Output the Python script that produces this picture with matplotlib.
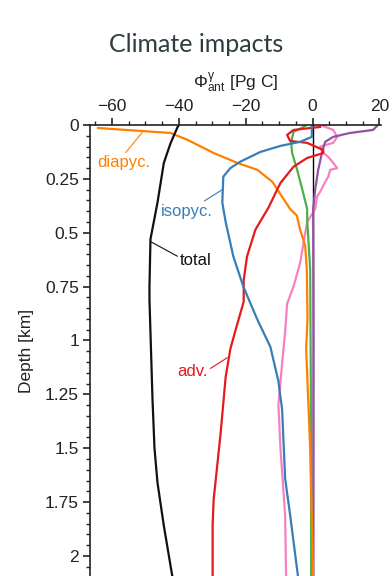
import matplotlib
matplotlib.use("Agg")
import matplotlib.pyplot as plt
from matplotlib.ticker import MultipleLocator

plt.rcParams['font.family'] = ['Liberation Sans', 'DejaVu Sans']
plt.rcParams['mathtext.fontset'] = 'custom'
plt.rcParams['mathtext.rm'] = 'Liberation Sans'
plt.rcParams['mathtext.it'] = 'Liberation Sans:italic'

# ---- data (Pg C vs depth km) ----
total_x = [-40.0, -40.4, -42.5, -44.5, -46.4, -48.5, -48.8, -48.8, -47.9, -47.3, -46.4, -44.5, -41.9]
total_d = [0.0, 0.01, 0.085, 0.176, 0.36, 0.53, 0.75, 0.81, 1.27, 1.5, 1.66, 1.86, 2.1]

diapyc_x = [-64.2, -42.5, -37.4, -29.6, -22.5, -16.5, -12.0, -6.7, -4.7, -3.7, -2.2, -1.7, -1.5, -1.9, -1.3, -0.7, 0.2]
diapyc_d = [0.014, 0.037, 0.069, 0.13, 0.176, 0.208, 0.264, 0.39, 0.42, 0.486, 0.56, 0.67, 0.9, 1.04, 1.27, 1.5, 2.1]

isopyc_x = [-0.2, -0.2, -3.7, -9.6, -15.6, -21.6, -24.6, -26.7, -27.0, -26.0, -23.7, -20.7, -16.6, -12.6, -10.2, -9.1, -8.2, -6.7, -4.3]
isopyc_d = [0.0, 0.055, 0.078, 0.097, 0.125, 0.17, 0.2, 0.24, 0.36, 0.45, 0.61, 0.75, 0.90, 1.03, 1.19, 1.32, 1.64, 1.81, 2.1]

adv_x = [2.3, -5.7, -7.6, -6.7, -1.6, 3.2, 3.2, 1.4, -1.6, -5.7, -9.6, -13.2, -17.1, -19.6, -20.6, -20.6, -23.0, -24.6, -26.0, -27.5, -29.6, -29.9, -29.9]
adv_d = [0.009, 0.023, 0.046, 0.074, 0.083, 0.116, 0.13, 0.139, 0.153, 0.194, 0.269, 0.384, 0.486, 0.61, 0.72, 0.82, 0.95, 1.04, 1.17, 1.43, 1.74, 1.86, 2.1]

green_x = [-2.2, -5.7, -6.4, -6.1, -4.6, -2.8, -1.6, -1.6, -0.7, -0.5, -0.4]
green_d = [0.005, 0.032, 0.083, 0.13, 0.208, 0.315, 0.39, 0.44, 0.67, 1.2, 2.1]

purple_x = [19.3, 18.1, 11.2, 6.2, 3.8, 2.9, 1.7, 0.8, 0.2, 0.3, 0.2]
purple_d = [0.005, 0.023, 0.037, 0.055, 0.078, 0.125, 0.208, 0.3, 0.39, 1.0, 2.1]

pink_x = [3.2, 6.2, 7.4, 6.2, 3.8, 2.3, 2.9, 4.7, 5.9, 7.4, 5.3, 4.7, 3.8, 2.3, 1.4, 0.8, -1.6, -3.7, -5.7, -7.6, -8.2, -9.6, -10.2, -9.6, -8.2, -7.9]
pink_d = [0.005, 0.023, 0.055, 0.083, 0.093, 0.1, 0.125, 0.148, 0.17, 0.2, 0.208, 0.24, 0.264, 0.31, 0.33, 0.39, 0.45, 0.64, 0.75, 0.83, 0.96, 1.19, 1.3, 1.5, 1.81, 2.1]

xticks = [-60, -40, -20, 0, 20]
xticklabels = ['\u221260', '\u221240', '\u221220', '0', '20']
yticks = [0, 0.25, 0.5, 0.75, 1, 1.25, 1.5, 1.75, 2]
yticklabels = ['0', '0.25', '0.5', '0.75', '1', '1.25', '1.5', '1.75', '2']

C_ORANGE = '#ff7f00'
C_BLUE = '#377eb8'
C_RED = '#e41a1c'
C_GREEN = '#4daf4a'
C_PURPLE = '#984ea3'
C_PINK = '#f781bf'

fig = plt.figure(figsize=(3.92, 5.76), dpi=100)
ax = fig.add_axes([90/392, 0.0, (381-90)/392, 1 - 125/576])

ax.axvline(0, color='black', lw=1.0, zorder=1)
lw = 1.6
ax.plot(pink_x, pink_d, color=C_PINK, lw=lw)
ax.plot(purple_x, purple_d, color=C_PURPLE, lw=lw)
ax.plot(green_x, green_d, color=C_GREEN, lw=lw)
ax.plot(diapyc_x, diapyc_d, color=C_ORANGE, lw=lw)
ax.plot(adv_x, adv_d, color=C_RED, lw=lw)
ax.plot(isopyc_x, isopyc_d, color=C_BLUE, lw=lw)
ax.plot(total_x, total_d, color='#111111', lw=lw)

ax.set_xlim(-66.6, 20.5)
ax.set_ylim(2.093, 0)

for s in ['right', 'bottom']:
    ax.spines[s].set_visible(False)
for s in ['left', 'top']:
    ax.spines[s].set_linewidth(1.2)
    ax.spines[s].set_color('#222222')

ax.xaxis.set_ticks_position('top')
ax.xaxis.set_label_position('top')
ax.set_xticks(xticks)
ax.set_xticklabels(xticklabels)
ax.xaxis.set_minor_locator(MultipleLocator(5))
ax.set_yticks(yticks)
ax.set_yticklabels(yticklabels)
ax.yaxis.set_minor_locator(MultipleLocator(0.05))
ax.tick_params(which='major', length=5, width=1.2, labelsize=12.5, color='#222222', labelcolor='#222222', pad=3)
ax.tick_params(which='minor', length=3, width=1.0, color='#222222')

ax.set_xlabel('$\\Phi_{\\mathrm{ant}}^{\\mathrm{\u03b3}}$ [Pg C]', fontsize=12.5, labelpad=8, color='#222222')
ax.set_ylabel('Depth [km]', fontsize=12.5, color='#222222', labelpad=8)

fig.text(0.5, 1 - 45/576, 'Climate impacts', ha='center', va='center', fontsize=18,
         family=['Lato', 'DejaVu Sans'], color='#2e3d40')

# annotations
ax.annotate('diapyc.', xy=(-51, 0.035), xytext=(-64.5, 0.175), color=C_ORANGE, fontsize=12,
            ha='left', va='center', arrowprops=dict(arrowstyle='-', color=C_ORANGE, lw=0.8,
            shrinkA=0, shrinkB=0, relpos=(0.5, 1.0)))
ax.annotate('isopyc.', xy=(-27.0, 0.3), xytext=(-45.3, 0.40), color=C_BLUE, fontsize=12,
            ha='left', va='center', arrowprops=dict(arrowstyle='-', color=C_BLUE, lw=0.8,
            shrinkA=0, shrinkB=0, relpos=(0.75, 1.0)))
ax.annotate('total', xy=(-48.6, 0.54), xytext=(-39.6, 0.63), color='#111111', fontsize=12,
            ha='left', va='center', arrowprops=dict(arrowstyle='-', color='#111111', lw=0.8,
            shrinkA=0, shrinkB=0, relpos=(0.0, 0.7)))
ax.annotate('adv.', xy=(-25.5, 1.08), xytext=(-40.5, 1.145), color=C_RED, fontsize=12,
            ha='left', va='center', arrowprops=dict(arrowstyle='-', color=C_RED, lw=0.8,
            shrinkA=0, shrinkB=0, relpos=(1.0, 0.6)))

fig.savefig('out.png', dpi=100)
